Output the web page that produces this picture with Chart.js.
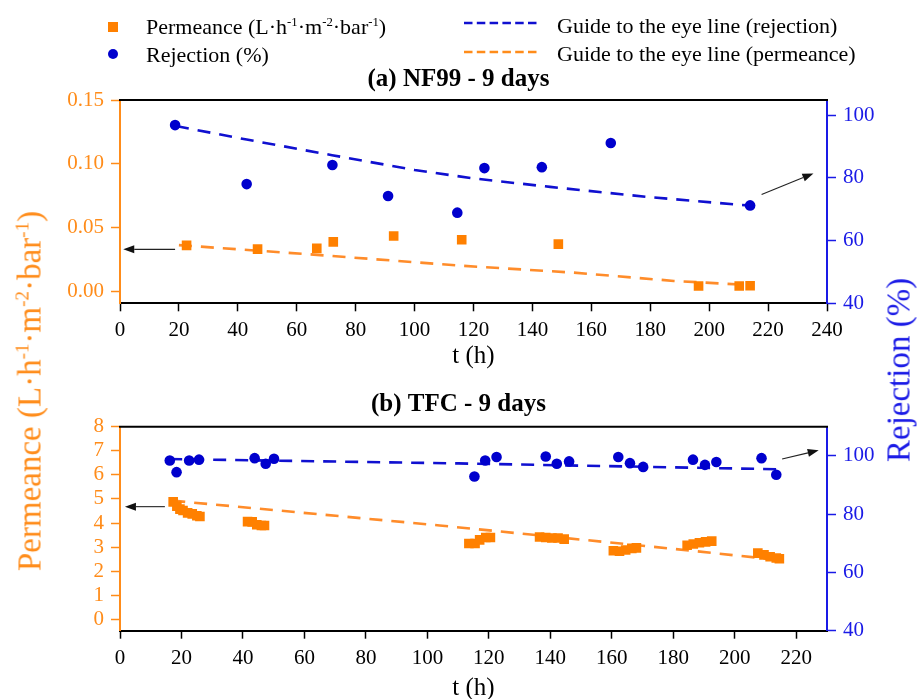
<!DOCTYPE html>
<html>
<head>
<meta charset="utf-8">
<script src="https://cdn.jsdelivr.net/npm/chart.js@4.4.1/dist/chart.umd.min.js"></script>
<style>
html,body{margin:0;padding:0;background:#fff;width:917px;height:699px;overflow:hidden;font-family:"Liberation Serif","Times New Roman",serif;}
canvas{position:absolute;left:0;}
#c1{top:0;}
#c2{top:371px;}
.lg{position:absolute;font-size:22px;line-height:22px;white-space:nowrap;color:#000;}
.lg sup,.yt sup{font-size:0.58em;vertical-align:0;position:relative;top:-0.62em;}
.mk{position:absolute;}
.yt{position:absolute;white-space:nowrap;font-size:33px;line-height:33px;transform:translate(-50%,-50%) rotate(-90deg);}
</style>
</head>
<body>
<canvas id="c1" width="917" height="371"></canvas>
<canvas id="c2" width="917" height="340"></canvas>

<div class="mk" style="left:108px;top:22px;width:10px;height:10px;background:#FF8000;"></div>
<div class="mk" style="left:108px;top:49px;width:10px;height:10px;border-radius:50%;background:#0000CD;"></div>
<div class="lg" style="left:146px;top:16px;">Permeance (L·h<sup>-1</sup>·m<sup>-2</sup>·bar<sup>-1</sup>)</div>
<div class="lg" style="left:146px;top:44px;">Rejection (%)</div>
<svg class="mk" style="left:460px;top:14px;" width="84" height="44">
  <line x1="4" y1="9" x2="77" y2="9" stroke="#1010D0" stroke-width="2.5" stroke-dasharray="8.5 4.3"/>
  <line x1="4" y1="38" x2="77" y2="38" stroke="#FF8C1A" stroke-width="2.5" stroke-dasharray="8.5 4.3"/>
</svg>
<div class="lg" style="left:557px;top:15px;">Guide to the eye line (rejection)</div>
<div class="lg" style="left:557px;top:43px;">Guide to the eye line (permeance)</div>

<div class="yt" style="left:32px;top:391px;color:#FF8C1A;">Permeance (L·h<sup>-1</sup>·m<sup>-2</sup>·bar<sup>-1</sup>)</div>
<div class="yt" style="left:899px;top:370px;color:#1A1AE6;">Rejection (%)</div>

<script>
// ---------- (a) NF99 - 9 days ----------
const T_PERM_A = [22.6, 46.7, 66.8, 72.4, 92.9, 116, 148.8, 196.4, 210.2, 213.9];
const PERM_A   = [0.0363, 0.0334, 0.034, 0.039, 0.0436, 0.0407, 0.0373, 0.0045, 0.0045, 0.0047];
const T_REJ_A  = [18.7, 43, 72.1, 91, 114.5, 123.7, 143.2, 166.6, 213.9];
const REJ_A    = [96.8, 78.0, 84.1, 74.2, 68.9, 83.1, 83.4, 91.1, 71.2];
const T_GUIDE_REJ_A = [19, 43, 72, 100, 120, 146, 179, 213];
const GUIDE_REJ_A   = [96.5, 92.2, 87.2, 82.5, 79.8, 77.1, 73.9, 71.2];
const T_GUIDE_PERM_A = [20, 68, 115, 154, 188, 212];
const GUIDE_PERM_A   = [0.0365, 0.0287, 0.0205, 0.015, 0.0085, 0.0055];
const X_TICKS_A = [0, 20, 40, 60, 80, 100, 120, 140, 160, 180, 200, 220, 240];
const PERM_TICKS_A = [0, 0.05, 0.10, 0.15];
const REJ_TICKS_A = [40, 60, 80, 100];
const ARROWS_A = [
  {axis: 'y',  from: [18.7, 0.0332], to: [1.1, 0.0332]},
  {axis: 'y2', from: [217.8, 74.7],  to: [235.4, 81.4]}
];

// ---------- (b) TFC - 9 days ----------
const T_PERM_B = [17.3, 18.5, 19.5, 20.5, 22, 23.5, 25, 26,
                  41.5, 43, 44.5, 46, 47,
                  113.5, 115.5, 117, 119, 120.5,
                  136.5, 138.5, 140.5, 142.5, 144.5,
                  160.5, 162.5, 164.5, 166.5, 168,
                  184.5, 186.5, 188.5, 190.5, 192.5,
                  207.5, 209.5, 211.5, 213.5, 214.5];
const PERM_B   = [4.88, 4.7, 4.58, 4.52, 4.42, 4.38, 4.3, 4.27,
                  4.06, 4.05, 3.93, 3.9, 3.9,
                  3.15, 3.15, 3.3, 3.4, 3.4,
                  3.42, 3.4, 3.38, 3.38, 3.33,
                  2.85, 2.83, 2.88, 2.95, 2.97,
                  3.08, 3.13, 3.18, 3.22, 3.25,
                  2.75, 2.68, 2.6, 2.55, 2.52];
const T_REJ_B  = [16.2, 18.4, 22.5, 25.7, 43.8, 47.4, 50.1, 115.3, 118.8, 122.5, 138.5, 142.1, 146.1, 162.1, 165.9, 170.2, 186.4, 190.3, 194, 208.7, 213.5];
const REJ_B    = [98.4, 94.4, 98.4, 98.7, 99.2, 97.3, 99.0, 92.9, 98.4, 99.6, 99.8, 97.3, 98.1, 99.6, 97.5, 96.2, 98.7, 96.9, 97.9, 99.2, 93.5];
const T_GUIDE_REJ_B = [16, 110, 214];
const GUIDE_REJ_B   = [98.9, 97.4, 95.4];
const T_GUIDE_PERM_B = [17, 104, 180, 214];
const GUIDE_PERM_B   = [4.93, 3.9, 2.93, 2.47];
const X_TICKS_B = [0, 20, 40, 60, 80, 100, 120, 140, 160, 180, 200, 220];
const PERM_TICKS_B = [0, 1, 2, 3, 4, 5, 6, 7, 8];
const REJ_TICKS_B = [40, 60, 80, 100];
const ARROWS_B = [
  {axis: 'y',  from: [14.6, 4.68],  to: [1.6, 4.68]},
  {axis: 'y2', from: [215.4, 98.9], to: [227.3, 101.9]}
];

const ORANGE_PT = '#FF8000', ORANGE_TXT = '#FF8C1A', ORANGE_LINE = '#FF8C2A';
const BLUE_PT = '#0000CD', BLUE_TXT = '#1A1AE6', BLUE_LINE = '#1010D0';
const FONT = '"Liberation Serif", "Times New Roman", serif';

const pts = (xs, ys) => xs.map((x, i) => ({x, y: ys[i]}));

const framePlugin = {
  id: 'frame',
  afterDatasetsDraw(chart, args, opts) {
    const {ctx, chartArea: {left, right, top}} = chart;
    ctx.save();
    ctx.strokeStyle = '#000';
    ctx.lineWidth = 2;
    ctx.beginPath(); ctx.moveTo(left - 1, top); ctx.lineTo(right + 1, top); ctx.stroke();
    (opts.arrows || []).forEach(a => {
      const xs = chart.scales.x, ys = chart.scales[a.axis];
      const x1 = xs.getPixelForValue(a.from[0]), y1 = ys.getPixelForValue(a.from[1]);
      const x2 = xs.getPixelForValue(a.to[0]), y2 = ys.getPixelForValue(a.to[1]);
      const ang = Math.atan2(y2 - y1, x2 - x1);
      const hl = 11, hw = 4;
      ctx.strokeStyle = '#222'; ctx.fillStyle = '#111'; ctx.lineWidth = 1.1;
      ctx.beginPath(); ctx.moveTo(x1, y1);
      ctx.lineTo(x2 - hl * Math.cos(ang), y2 - hl * Math.sin(ang)); ctx.stroke();
      ctx.beginPath();
      ctx.moveTo(x2, y2);
      ctx.lineTo(x2 - hl * Math.cos(ang) + hw * Math.sin(ang), y2 - hl * Math.sin(ang) - hw * Math.cos(ang));
      ctx.lineTo(x2 - hl * Math.cos(ang) - hw * Math.sin(ang), y2 - hl * Math.sin(ang) + hw * Math.cos(ang));
      ctx.closePath(); ctx.fill();
    });
    ctx.restore();
  }
};

function makeChart(id, cfg) {
  const tickFont = {family: FONT, size: 21, lineHeight: 1.2};
  return new Chart(document.getElementById(id), {
    type: 'scatter',
    data: {
      datasets: [
        {label: 'Permeance', data: pts(cfg.tPerm, cfg.perm), yAxisID: 'y', pointStyle: 'rect', pointRadius: 6.8,
         pointHoverRadius: 6.8, backgroundColor: ORANGE_PT, borderColor: ORANGE_PT, borderWidth: 0, order: 1},
        {label: 'Rejection', data: pts(cfg.tRej, cfg.rej), yAxisID: 'y2', pointStyle: 'circle', pointRadius: 5.3,
         pointHoverRadius: 5.3, backgroundColor: BLUE_PT, borderColor: BLUE_PT, borderWidth: 0, order: 2},
        {label: 'Guide rejection', data: pts(cfg.tGR, cfg.gR), yAxisID: 'y2', showLine: true, pointRadius: 0,
         borderColor: BLUE_LINE, borderWidth: 2.6, borderDash: [13, 9], tension: 0, order: 3},
        {label: 'Guide permeance', data: pts(cfg.tGP, cfg.gP), yAxisID: 'y', showLine: true, pointRadius: 0,
         borderColor: ORANGE_LINE, borderWidth: 2.6, borderDash: [13, 9], tension: 0, order: 4}
      ]
    },
    options: {
      responsive: false,
      animation: false,
      layout: {padding: {top: cfg.padTop, left: 0, right: 0, bottom: 0}},
      plugins: {
        legend: {display: false},
        tooltip: {enabled: false},
        title: {display: true, text: cfg.title, color: '#000',
                font: {family: FONT, size: 25, weight: 'bold', lineHeight: 1.2},
                padding: {top: 0, bottom: cfg.titlePad}},
        frame: {arrows: cfg.arrows}
      },
      scales: {
        x: {
          type: 'linear', position: 'bottom', min: 0, max: cfg.xMax,
          afterBuildTicks: s => { s.ticks = cfg.xTicks.map(v => ({value: v})); },
          afterFit: s => { s.height = cfg.xH; },
          ticks: {color: '#000', font: tickFont, padding: 7, maxRotation: 0, autoSkip: false, callback: v => String(v)},
          grid: {display: true, drawOnChartArea: false, drawTicks: true, tickLength: 8, tickWidth: 1.5, tickColor: '#000'},
          border: {display: true, color: '#000', width: 2},
          title: {display: true, text: 't (h)', color: '#000', font: {family: FONT, size: 25, lineHeight: 1.2},
                  padding: {top: 0, bottom: cfg.xTitlePad}}
        },
        y: {
          type: 'linear', position: 'left', min: cfg.yMin, max: cfg.yMax,
          afterBuildTicks: s => { s.ticks = cfg.yTicks.map(v => ({value: v})); },
          afterFit: s => { s.width = 120; },
          ticks: {color: ORANGE_TXT, font: tickFont, padding: 7, autoSkip: false, callback: v => cfg.yFmt(v)},
          grid: {display: true, drawOnChartArea: false, drawTicks: true, tickLength: 9, tickWidth: 1.5, tickColor: ORANGE_TXT},
          border: {display: true, color: ORANGE_TXT, width: 2}
        },
        y2: {
          type: 'linear', position: 'right', min: 40, max: cfg.y2Max,
          afterBuildTicks: s => { s.ticks = cfg.y2Ticks.map(v => ({value: v})); },
          afterFit: s => { s.width = 90; },
          ticks: {color: BLUE_TXT, font: tickFont, padding: 7, autoSkip: false, callback: v => String(v)},
          grid: {display: true, drawOnChartArea: false, drawTicks: true, tickLength: 9, tickWidth: 1.5, tickColor: BLUE_TXT},
          border: {display: true, color: BLUE_TXT, width: 2}
        }
      }
    },
    plugins: [framePlugin]
  });
}

makeChart('c1', {
  title: '(a) NF99 - 9 days', padTop: 64.5, titlePad: 5.5, xH: 67.7, xTitlePad: 0,
  xMax: 240, xTicks: X_TICKS_A,
  yMin: -0.009, yMax: 0.15, yTicks: PERM_TICKS_A, yFmt: v => v.toFixed(2),
  y2Max: 104.8, y2Ticks: REJ_TICKS_A,
  tPerm: T_PERM_A, perm: PERM_A, tRej: T_REJ_A, rej: REJ_A,
  tGR: T_GUIDE_REJ_A, gR: GUIDE_REJ_A, tGP: T_GUIDE_PERM_A, gP: GUIDE_PERM_A,
  arrows: ARROWS_A
});

makeChart('c2', {
  title: '(b) TFC - 9 days', padTop: 19, titlePad: 6.7, xH: 80.3, xTitlePad: 8,
  xMax: 230, xTicks: X_TICKS_B,
  yMin: -0.47, yMax: 8, yTicks: PERM_TICKS_B, yFmt: v => String(v),
  y2Max: 110, y2Ticks: REJ_TICKS_B,
  tPerm: T_PERM_B, perm: PERM_B, tRej: T_REJ_B, rej: REJ_B,
  tGR: T_GUIDE_REJ_B, gR: GUIDE_REJ_B, tGP: T_GUIDE_PERM_B, gP: GUIDE_PERM_B,
  arrows: ARROWS_B
});
</script>
</body>
</html>
